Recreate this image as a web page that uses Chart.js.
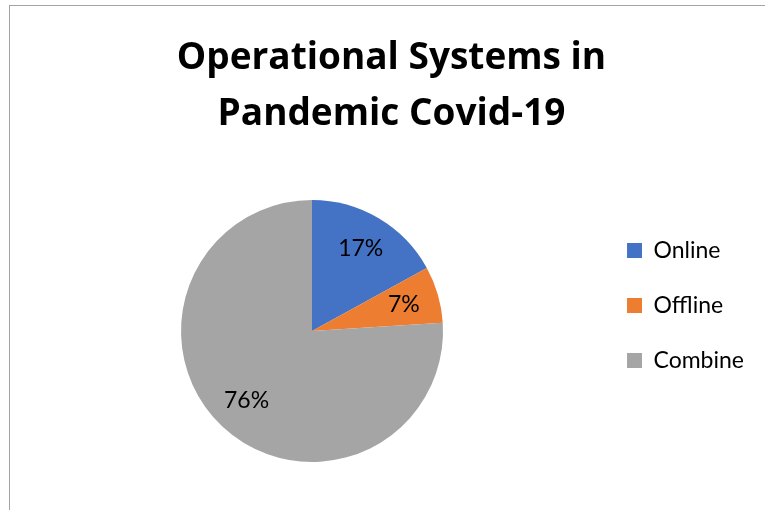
<!DOCTYPE html>
<html>
<head>
<meta charset="utf-8">
<script src="https://cdn.jsdelivr.net/npm/chart.js@4"></script>
<style>
  html, body { margin: 0; padding: 0; background: #fff; }
  #wrap { position: relative; width: 765px; height: 510px; overflow: hidden; background: #fff; }
  #frame { position: absolute; left: 9px; top: 5px; width: 900px; height: 700px; border: 1px solid #a3a3a3; box-sizing: border-box; }
  #chart { position: absolute; left: 0; top: 0; }
</style>
</head>
<body>
<div id="wrap">
  <div id="frame"></div>
  <canvas id="chart" width="765" height="510"></canvas>
</div>
<script>
// Share of operational systems used during the Covid-19 pandemic
const categories = ['Online', 'Offline', 'Combine'];
const shares = [17, 7, 76];
const sliceColors = ['#4472C4', '#ED7D31', '#A5A5A5'];
const titleLines = ['Operational Systems in', 'Pandemic Covid-19'];

const FONT = 'Lato, "Open Sans", "Liberation Sans", sans-serif';
const TITLE_FONT = '"Open Sans", Lato, "Liberation Sans", sans-serif';

// Percentage labels placed inside each slice
const sliceLabels = {
  id: 'sliceLabels',
  afterDatasetsDraw(chart) {
    const { ctx } = chart;
    const meta = chart.getDatasetMeta(0);
    ctx.save();
    ctx.font = '23px ' + FONT;
    ctx.fillStyle = '#000';
    ctx.textAlign = 'center';
    ctx.textBaseline = 'middle';
    meta.data.forEach((arc, i) => {
      const p = arc.getProps(['x', 'y', 'startAngle', 'endAngle', 'outerRadius'], true);
      const mid = (p.startAngle + p.endAngle) / 2;
      const r = p.outerRadius * 0.73;
      ctx.fillText(shares[i] + '%', p.x + Math.cos(mid) * r, p.y + Math.sin(mid) * r);
    });
    ctx.restore();
  }
};

new Chart(document.getElementById('chart'), {
  type: 'pie',
  data: {
    labels: categories,
    datasets: [{
      data: shares,
      backgroundColor: sliceColors,
      borderWidth: 0,
      hoverOffset: 0,
      offset: 0
    }]
  },
  options: {
    responsive: false,
    animation: false,
    layout: { padding: { left: 29, right: 11, top: 28, bottom: 48 } },
    plugins: {
      title: {
        display: true,
        text: titleLines,
        color: '#000',
        font: { family: TITLE_FONT, size: 37, weight: 'bold', lineHeight: 56 / 37 },
        padding: { top: 2, bottom: 58 }
      },
      legend: {
        position: 'right',
        align: 'start',
        fullSize: false,
        title: { display: true, text: '', font: { size: 7, lineHeight: 1 }, padding: 0 },
        labels: {
          color: '#000',
          font: { family: FONT, size: 23 },
          boxWidth: 15,
          boxHeight: 15,
          usePointStyle: true,
          pointStyle: 'rect',
          padding: 32
        }
      },
      tooltip: { enabled: false }
    }
  },
  plugins: [sliceLabels]
});
</script>
</body>
</html>
